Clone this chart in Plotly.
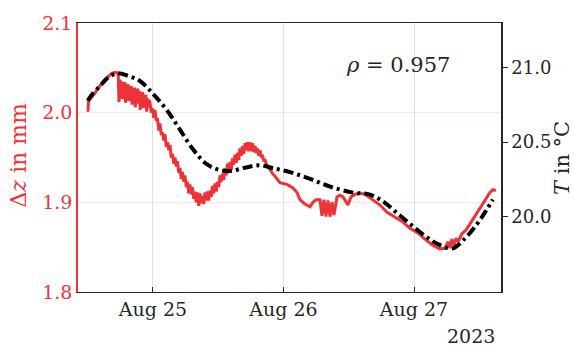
import pandas as pd
import plotly.graph_objects as go

BASE = "2023-08-24"

# Displacement (mm) — hours since Aug 24 00:00
dz_hours = [12.05, 12.15, 12.97, 14.25, 15.36, 16.46, 17.2, 17.6,
            17.75, 17.9, 18.05, 18.2, 18.35, 18.5, 18.65, 18.8, 18.95, 19.1, 19.25,
            19.4, 19.55, 19.7, 19.85, 20.0, 20.15, 20.3, 20.45, 20.6, 20.75, 20.9,
            21.05, 21.2, 21.35, 21.5, 21.65, 21.8, 21.95, 22.1, 22.25, 22.4, 22.55,
            22.7, 22.85, 23.0, 23.15, 23.3,
            23.45, 23.68, 23.91, 24.14, 24.37, 24.6, 24.83, 25.06, 25.29, 25.52,
            25.75, 25.98, 26.21, 26.44, 26.67, 26.9, 27.13, 27.36, 27.59, 27.82,
            28.05, 28.28, 28.51, 28.74, 28.97, 29.2, 29.43, 29.66, 29.88, 30.11,
            30.34, 30.57, 30.8, 31.03, 31.26, 31.49, 31.72, 31.95, 32.18, 32.41,
            32.64, 32.87, 33.1, 33.33, 33.56, 33.79, 34.02, 34.25, 34.48, 34.71,
            34.94, 35.17, 35.4, 35.63, 35.86, 36.09, 36.32, 36.55, 36.78, 37.01,
            37.24, 37.47, 37.7, 37.93, 38.16, 38.39, 38.62, 38.85, 39.08, 39.31,
            39.54, 39.77, 40.0, 40.23, 40.46, 40.69, 40.92, 41.15, 41.38, 41.61,
            41.84, 42.07, 42.3, 42.53, 42.76, 42.99, 43.22, 43.45, 43.68, 43.91,
            44.14, 44.37, 44.6, 44.83, 45.06, 45.52, 46.0, 46.44, 47.36,
            48.64, 49.75, 50.48, 51.03, 51.95, 52.87, 53.42, 53.97, 54.71, 55.08,
            55.45, 55.81, 56.18, 56.55, 56.92, 57.29, 57.84, 58.39, 58.94, 59.49,
            59.86, 60.41, 61.15, 62.07, 62.99, 63.91, 64.83, 65.75, 67.04, 68.5,
            69.97, 71.26, 72.73, 74.02, 75.49, 76.78, 77.7, 78.25, 78.62, 78.98,
            79.35, 79.72, 80.09, 80.82, 81.56, 82.3, 83.21, 84.13, 85.05, 85.97,
            86.52, 87.07]
dz_values = [2.001, 2.013, 2.019, 2.030, 2.038, 2.044, 2.045, 2.043,
             2.012, 2.037, 2.021, 2.035, 2.015, 2.030, 2.024, 2.034, 2.011, 2.028, 2.019,
             2.032, 2.013, 2.026, 2.016, 2.030, 2.009, 2.025, 2.018, 2.028, 2.006, 2.022,
             2.014, 2.027, 2.010, 2.024, 2.003, 2.021, 2.012, 2.023, 2.005, 2.019, 2.009,
             2.020, 2.001, 2.016, 2.006, 2.014,
             2.011, 2.000, 2.005, 1.994, 2.003, 1.991, 1.994, 1.980, 1.988, 1.975,
             1.978, 1.969, 1.976, 1.962, 1.967, 1.958, 1.964, 1.950, 1.954, 1.943,
             1.950, 1.940, 1.946, 1.933, 1.938, 1.926, 1.934, 1.923, 1.930, 1.917,
             1.923, 1.910, 1.920, 1.909, 1.917, 1.904, 1.912, 1.900, 1.911, 1.896,
             1.910, 1.899, 1.907, 1.898, 1.911, 1.902, 1.912, 1.902, 1.913, 1.906,
             1.918, 1.910, 1.921, 1.912, 1.923, 1.917, 1.930, 1.923, 1.932, 1.925,
             1.938, 1.930, 1.943, 1.935, 1.945, 1.936, 1.949, 1.942, 1.953, 1.944,
             1.955, 1.947, 1.960, 1.952, 1.963, 1.954, 1.966, 1.958, 1.967, 1.957,
             1.967, 1.957, 1.966, 1.956, 1.963, 1.955, 1.960, 1.952, 1.958, 1.950,
             1.953, 1.946, 1.948, 1.9425, 1.941, 1.936, 1.932, 1.929, 1.922,
             1.920, 1.916, 1.911, 1.903, 1.898, 1.895, 1.900, 1.903, 1.903, 1.885,
             1.903, 1.884, 1.902, 1.884, 1.900, 1.886, 1.906, 1.908, 1.906, 1.900,
             1.897, 1.906, 1.909, 1.910, 1.909, 1.905, 1.901, 1.897, 1.889, 1.884,
             1.878, 1.871, 1.866, 1.859, 1.852, 1.848, 1.849, 1.856, 1.849, 1.859,
             1.852, 1.860, 1.856, 1.865, 1.869, 1.876, 1.885, 1.893, 1.902, 1.911,
             1.914, 1.913]

# Temperature (°C)
t_hours = [12.0, 13.0, 14.3, 15.2, 16.1, 17.6, 19.4, 21.6, 24.0, 26.6, 29.0, 31.4,
           33.9, 36.3, 38.2, 41.3, 43.7, 46.1, 49.2, 52.9, 56.6, 60.8, 63.9, 66.3,
           68.5, 71.3, 74.0, 76.2, 79.0, 81.0, 83.6, 85.4, 86.5]
t_values = [20.778, 20.83, 20.877, 20.915, 20.943, 20.962, 20.945, 20.910, 20.824,
            20.712, 20.581, 20.449, 20.351, 20.311, 20.305, 20.331, 20.344, 20.324,
            20.298, 20.252, 20.200, 20.160, 20.147, 20.101, 20.035, 19.949, 19.870,
            19.818, 19.785, 19.838, 19.949, 20.048, 20.114]

x_range_hours = [10.21, 88.0]
dz_ticks = [1.8, 1.9, 2.0, 2.1]
t_ticks = [20.0, 20.5, 21.0]
x_tick_hours = [24, 48, 72]
rho_text = "<i>ρ</i> = 0.957"
year_text = "2023"

def to_dt(hours):
    return pd.Timestamp(BASE) + pd.to_timedelta(pd.Series(hours), unit="h")

RED = "#ee3338"
INK = "#262626"
FONT = "DejaVu Serif"

fig = go.Figure()
fig.add_trace(go.Scatter(x=to_dt(dz_hours), y=dz_values, mode="lines",
                         line=dict(color=RED, width=3), yaxis="y", showlegend=False))
fig.add_trace(go.Scatter(x=to_dt(t_hours), y=t_values, mode="lines",
                         line=dict(color="black", width=4, dash="10px,4px,3px,4px"),
                         yaxis="y2", showlegend=False, line_shape="spline"))

xr = to_dt(x_range_hours)
xt = to_dt(x_tick_hours)
fig.update_layout(
    width=574, height=352,
    margin=dict(l=78, r=73, t=19, b=60),
    plot_bgcolor="white", paper_bgcolor="white",
    font=dict(family=FONT, size=19, color=INK),
    xaxis=dict(range=[xr.iloc[0], xr.iloc[1]], tickvals=list(xt), tickformat="%b %d",
               showgrid=True, gridcolor="#e2e2e2", gridwidth=1,
               ticks="inside", ticklen=5, tickcolor=INK,
               showline=True, linecolor=INK, linewidth=1, mirror=True,
               zeroline=False, tickfont=dict(size=19, color=INK)),
    yaxis=dict(range=[1.8, 2.1], tickvals=dz_ticks, tickformat=".1f",
               showgrid=True, gridcolor="rgba(238,51,56,0.13)", gridwidth=1,
               showline=True, linecolor=RED, linewidth=1.5, ticks="",
               zeroline=False, tickfont=dict(size=19, color=RED)),
    yaxis2=dict(range=[19.492, 21.30], tickvals=t_ticks, tickformat=".1f",
                overlaying="y", side="right", showgrid=False,
                showline=True, linecolor=INK, linewidth=1.5,
                ticks="outside", ticklen=5, tickcolor=INK,
                zeroline=False, tickfont=dict(size=18, color=INK)),
    annotations=[
        dict(text="Δ<i>z</i> in mm", xref="paper", yref="paper", x=-0.14, y=0.51,
             xanchor="center", yanchor="middle", textangle=-90, showarrow=False,
             font=dict(size=22, color=RED, family=FONT)),
        dict(text="<i>T</i> in °C", xref="paper", yref="paper", x=1.143, y=0.5,
             xanchor="center", yanchor="middle", textangle=-90, showarrow=False,
             font=dict(size=21, color=INK, family=FONT)),
        dict(text=rho_text, xref="paper", yref="paper", x=0.757, y=0.845,
             xanchor="center", yanchor="middle", showarrow=False,
             font=dict(size=21, color=INK, family=FONT)),
        dict(text=year_text, xref="paper", yref="paper", x=0.93, y=-0.165,
             xanchor="center", yanchor="middle", showarrow=False,
             font=dict(size=19, color=INK, family=FONT)),
    ],
)
fig.write_html("out.html")
